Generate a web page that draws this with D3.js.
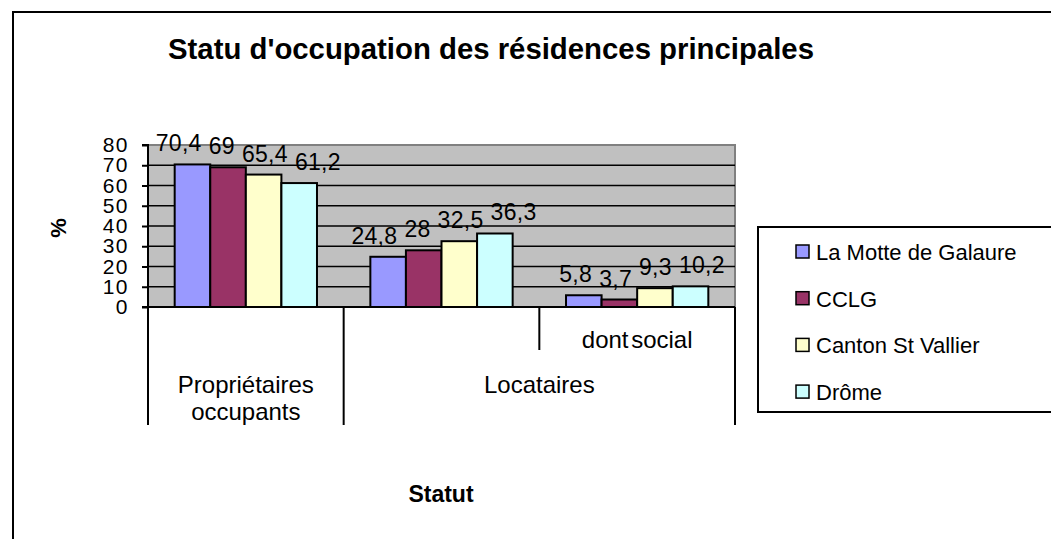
<!DOCTYPE html>
<html>
<head>
<meta charset="utf-8">
<script src="https://cdn.jsdelivr.net/npm/d3@7"></script>
<style>
	body { margin: 0; background: #fff; }
	svg text { font-family: Arial, "Liberation Sans", sans-serif; }
</style>
</head>
<body>
<svg id="chart" width="1051" height="539"></svg>
<script>
// chart data
var categories = ['', '', 'dont social'];
var groups = [
	{ label: ['Propriétaires', 'occupants'], from: 0, to: 0 },
	{ label: ['Locataires'], from: 1, to: 2 }
];
var series = ['La Motte de Galaure', 'CCLG', 'Canton St Vallier', 'Drôme'];
var colors = ['#9999FF', '#993366', '#FFFFCC', '#CCFFFF'];
var values = [
	[70.4, 24.8, 5.8],
	[69, 28, 3.7],
	[65.4, 32.5, 9.3],
	[61.2, 36.3, 10.2]
];
var yTicks = [0, 10, 20, 30, 40, 50, 60, 70, 80];

var svg = d3.select('#chart');
var plotLeft = 148, plotRight = 735, plotTop = 145, plotBottom = 307;

// outer frame (right and bottom edges run off the picture)
svg.append('rect')
	.attr('x', 13).attr('y', 12)
	.attr('width', 1100).attr('height', 600)
	.attr('fill', 'none').attr('stroke', '#000').attr('stroke-width', 2);

svg.append('text')
	.attr('x', 491).attr('y', 59)
	.attr('text-anchor', 'middle')
	.attr('font-size', '29px').attr('font-weight', 'bold')
	.attr('textLength', 646).attr('lengthAdjust', 'spacingAndGlyphs')
	.text("Statu d'occupation des résidences principales");

var y = d3.scaleLinear().domain([0, 80]).range([plotBottom, plotTop]);
var x0 = d3.scaleBand().domain(d3.range(categories.length)).range([plotLeft, plotRight]);
var x1 = d3.scaleBand().domain(d3.range(series.length)).range([0, x0.bandwidth()])
	.paddingInner(0).paddingOuter(0.75);

// plot background
svg.append('rect')
	.attr('x', plotLeft).attr('y', plotTop)
	.attr('width', plotRight-plotLeft).attr('height', plotBottom-plotTop)
	.attr('fill', '#C0C0C0').attr('stroke', '#808080').attr('stroke-width', 2);

// gridlines
svg.append('g').selectAll('line')
	.data(yTicks.filter(function(d){ return d > 0 && d < 80; }))
	.enter().append('line')
	.attr('x1', plotLeft).attr('x2', plotRight)
	.attr('y1', function(d){ return y(d); })
	.attr('y2', function(d){ return y(d); })
	.attr('stroke', '#000').attr('stroke-width', 1.6);

// bars
var bars = svg.append('g');
values.forEach(function(row, s){
	bars.selectAll('.bar_'+s)
		.data(row)
		.enter().append('rect')
		.attr('class', 'bar_'+s)
		.attr('x', function(d, i){ return x0(i)+x1(s); })
		.attr('y', function(d){ return y(d); })
		.attr('width', x1.bandwidth())
		.attr('height', function(d){ return y(0)-y(d); })
		.attr('fill', colors[s])
		.attr('stroke', '#000').attr('stroke-width', 2);
});

// data labels, one set per category; pushed apart when they collide
var labelLayer = svg.append('g');
categories.forEach(function(c, i){
	var lbls = values.map(function(row, s){
		var t = labelLayer.append('text')
			.attr('y', y(row[i])-13)
			.attr('text-anchor', 'middle')
			.attr('font-size', '23px')
			.attr('letter-spacing', '0.3px')
			.text(String(row[i]).replace('.', ','));
		return { node: t, cx: x0(i)+x1(s)+x1.bandwidth()/2, w: t.node().getComputedTextLength() };
	});
	for (var it = 0; it < 80; it++){
		for (var k = 1; k < lbls.length; k++){
			var a = lbls[k-1], b = lbls[k];
			var over = (a.cx+a.w/2+7)-(b.cx-b.w/2);
			if (over > 0){
				a.cx -= over/2;
				b.cx += over/2;
			}
		}
	}
	lbls.forEach(function(l){ l.node.attr('x', l.cx); });
});

// y axis
var yAxis = d3.axisLeft(y).tickValues(yTicks).tickSize(6).tickPadding(13);
var gy = svg.append('g').attr('transform', 'translate('+plotLeft+',0)').call(yAxis);
gy.select('.domain').attr('stroke', '#000').attr('stroke-width', 2)
	.attr('d', 'M-6,'+plotTop+'H0V'+plotBottom+'H-6');
gy.selectAll('.tick line').attr('stroke', '#000').attr('stroke-width', 2);
gy.selectAll('.tick text').attr('font-size', '21px').attr('fill', '#000')
	.attr('letter-spacing', '1.5px')
	.attr('font-family', 'Arial, "Liberation Sans", sans-serif');

// x axis line
svg.append('line')
	.attr('x1', plotLeft).attr('x2', plotRight)
	.attr('y1', plotBottom).attr('y2', plotBottom)
	.attr('stroke', '#000').attr('stroke-width', 2);

// category separators: outer level long, inner level short
var seps = [
	{ x: plotLeft, len: 118 },
	{ x: x0(1), len: 118 },
	{ x: x0(2), len: 43 },
	{ x: plotRight, len: 118 }
];
svg.append('g').selectAll('line')
	.data(seps)
	.enter().append('line')
	.attr('x1', function(d){ return d.x; }).attr('x2', function(d){ return d.x; })
	.attr('y1', plotBottom).attr('y2', function(d){ return plotBottom+d.len; })
	.attr('stroke', '#000').attr('stroke-width', 2);

// inner category labels
svg.append('g').selectAll('text')
	.data(categories)
	.enter().append('text')
	.attr('x', function(d, i){ return x0(i)+x0.bandwidth()/2; })
	.attr('y', 348)
	.attr('text-anchor', 'middle')
	.attr('font-size', '24px')
	.attr('word-spacing', '-4px')
	.text(function(d){ return d; });

// outer group labels
groups.forEach(function(g){
	var cx = (x0(g.from)+x0(g.to)+x0.bandwidth())/2;
	var t = svg.append('text')
		.attr('text-anchor', 'middle')
		.attr('font-size', '24px');
	g.label.forEach(function(line, k){
		t.append('tspan').attr('x', cx).attr('y', 393+k*27).text(line);
	});
});

// axis titles
svg.append('text')
	.attr('transform', 'translate(66,228) rotate(-90)')
	.attr('text-anchor', 'middle')
	.attr('font-size', '22px').attr('font-weight', 'bold')
	.text('%');

svg.append('text')
	.attr('x', 441).attr('y', 502)
	.attr('text-anchor', 'middle')
	.attr('font-size', '23px').attr('font-weight', 'bold')
	.text('Statut');

// legend
var legend = svg.append('g');
legend.append('rect')
	.attr('x', 758).attr('y', 227)
	.attr('width', 400).attr('height', 185)
	.attr('fill', '#fff').attr('stroke', '#000').attr('stroke-width', 2);
var item = legend.selectAll('.item')
	.data(series)
	.enter().append('g')
	.attr('transform', function(d, i){ return 'translate(796,'+(252+i*46.7)+')'; });
item.append('rect')
	.attr('x', 0).attr('y', -7)
	.attr('width', 13).attr('height', 13)
	.attr('fill', function(d, i){ return colors[i]; })
	.attr('stroke', '#000').attr('stroke-width', 1.5);
item.append('text')
	.attr('x', 20).attr('y', 8)
	.attr('font-size', '22px')
	.text(function(d){ return d; });
</script>
</body>
</html>
